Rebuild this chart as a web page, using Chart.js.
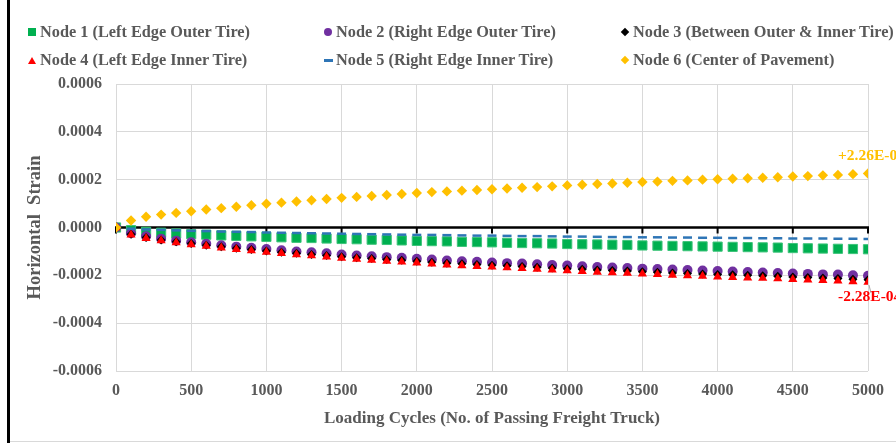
<!DOCTYPE html>
<html><head><meta charset="utf-8">
<script src="https://cdn.jsdelivr.net/npm/chart.js@4.4.1/dist/chart.umd.min.js"></script>
<style>
html,body{margin:0;padding:0;background:#fff;}
#wrap{position:relative;width:896px;height:443px;overflow:hidden;background:#fff;}
#c{position:absolute;left:0;top:0;}
.frameL{position:absolute;left:7px;top:0;width:3px;height:443px;background:#000;}
.frameB{position:absolute;left:10px;top:441px;width:886px;height:1px;background:#d9d9d9;}
.item{position:absolute;white-space:nowrap;font:bold 16.3px "Liberation Serif","Times New Roman",serif;color:#595959;line-height:20px;height:20px;transform:translateY(-50%);}
.mk{position:absolute;}
</style></head>
<body>
<div id="wrap">
<canvas id="c" width="896" height="443"></canvas>
<div class="frameL"></div><div class="frameB"></div>
</div>
<script>
// Loading cycles (x)
const cycles = [0,100,200,300,400,500,600,700,800,900,1000,1100,1200,1300,1400,1500,1600,1700,1800,1900,2000,2100,2200,2300,2400,2500,2600,2700,2800,2900,3000,3100,3200,3300,3400,3500,3600,3700,3800,3900,4000,4100,4200,4300,4400,4500,4600,4700,4800,4900,5000];
// Horizontal strain values, in micro-strain (x 1e-6)
const node1 = [0,-11,-18,-22,-25,-28,-30,-33,-35,-37,-39,-41,-43,-44,-46,-48,-49,-51,-52,-54,-56,-57,-58,-60,-61,-62,-64,-65,-66,-67,-69,-70,-71,-72,-73,-75,-76,-77,-78,-79,-80,-81,-82,-83,-84,-86,-87,-88,-89,-90,-91];
const node2 = [0,-24,-37,-47,-55,-62,-68,-74,-80,-85,-90,-95,-100,-104,-108,-113,-117,-120,-124,-127,-131,-134,-138,-141,-143,-146,-149,-151,-154,-157,-159,-162,-165,-167,-169,-172,-174,-176,-178,-180,-182,-184,-186,-188,-190,-192,-194,-196,-197,-200,-202];
const node3 = [0,-28,-42,-52,-60,-67,-74,-81,-87,-92,-98,-103,-108,-113,-117,-122,-126,-130,-134,-137,-141,-145,-149,-152,-155,-158,-160,-163,-166,-169,-172,-175,-178,-180,-182,-185,-187,-190,-192,-194,-196,-198,-200,-202,-204,-207,-209,-211,-213,-216,-218];
const node4 = [0,-31,-45,-55,-63,-71,-78,-85,-91,-97,-103,-108,-113,-118,-123,-128,-132,-136,-140,-144,-148,-152,-156,-159,-162,-165,-168,-171,-174,-177,-180,-183,-186,-189,-191,-194,-196,-199,-201,-203,-206,-208,-210,-212,-214,-217,-219,-221,-223,-226,-228];
const node5 = [0,-5,-8,-10,-12,-14,-15,-17,-18,-19,-21,-22,-23,-24,-25,-26,-27,-28,-29,-30,-31,-31,-32,-33,-34,-34,-35,-36,-36,-37,-38,-38,-39,-40,-40,-41,-41,-42,-42,-43,-43,-44,-44,-45,-45,-46,-46,-46,-47,-47,-48];
const node6 = [0,29,45,54,61,68,75,81,87,93,99,104,109,114,119,124,128,132,136,140,144,148,151,154,157,160,163,166,169,172,176,179,182,184,187,190,192,195,197,200,202,204,206,208,210,213,215,218,220,223,226];
const MICRO = 1e-6;
const seriesNames = ['Node 1 (Left Edge Outer Tire)','Node 2 (Right Edge Outer Tire)','Node 3 (Between Outer & Inner Tire)','Node 4 (Left Edge Inner Tire)','Node 5 (Right Edge Inner Tire)','Node 6 (Center of Pavement)'];
const yTicks = [-0.0006,-0.0004,-0.0002,0,0.0002,0.0004,0.0006];
const xTicks = [0,500,1000,1500,2000,2500,3000,3500,4000,4500,5000];
const xTitle = 'Loading Cycles (No. of Passing Freight Truck)';
const yTitle = 'Horizontal  Strain';

const FONT = '"Liberation Serif","Times New Roman",serif';
const GREY = '#595959';
const styles = [
  {color:'#00B050', style:'rect', r:6.5, bw:1, border:'#3CC47A', order:6},
  {color:'#7030A0', style:'circle', r:5, bw:0, border:'#7030A0', order:5},
  {color:'#000000', style:'rectRot', r:4.5, bw:0, border:'#000', order:4},
  {color:'#FF0000', style:'triangle', r:5.3, bw:0, border:'#FF0000', order:3},
  {color:'#2E75B6', style:'line', r:4.5, bw:2.5, border:'#2E75B6', order:2},
  {color:'#FFC000', style:'rectRot', r:5.2, bw:0, border:'#FFC000', order:1}
];
const allSeries = [node1,node2,node3,node4,node5,node6];
const datasets = allSeries.map((s,i)=>({
  label: seriesNames[i],
  data: s.map((v,j)=>({x:cycles[j], y:v*MICRO})),
  showLine:false,
  pointStyle: styles[i].style,
  pointRadius: styles[i].r,
  pointBackgroundColor: styles[i].color,
  pointBorderColor: styles[i].border,
  pointBorderWidth: styles[i].bw,
  order: styles[i].order
}));

function fmtE(v){
  const e = Math.floor(Math.log10(Math.abs(v)));
  const m = Math.abs(v)/Math.pow(10,e);
  return (v>=0?'+':'-') + m.toFixed(2) + 'E' + (e<0?'-':'+') + String(Math.abs(e)).padStart(2,'0');
}

const zeroAxis = {
  id:'zeroAxis',
  beforeDatasetsDraw(chart){
    const {ctx, scales:{x,y}} = chart;
    const py = y.getPixelForValue(0);
    ctx.save();
    ctx.strokeStyle = '#000';
    ctx.lineWidth = 2.5;
    ctx.beginPath(); ctx.moveTo(x.left-1, py); ctx.lineTo(x.right+1, py); ctx.stroke();
    ctx.lineWidth = 2;
    xTicks.forEach(t=>{
      const px = x.getPixelForValue(t);
      ctx.beginPath(); ctx.moveTo(px, py); ctx.lineTo(px, py+6); ctx.stroke();
    });
    ctx.restore();
  }
};

const endLabels = {
  id:'endLabels',
  afterDatasetsDraw(chart){
    const {ctx, scales:{x,y}} = chart;
    const last = cycles.length-1;
    const px = x.getPixelForValue(cycles[last]);
    const vTop = node6[last]*MICRO, vBot = node4[last]*MICRO;
    const pyT = y.getPixelForValue(vTop), pyB = y.getPixelForValue(vBot);
    ctx.save();
    ctx.font = 'bold 15.5px ' + FONT;
    ctx.textBaseline = 'middle';
    ctx.textAlign = 'left';
    ctx.fillStyle = '#FFC000';
    ctx.fillText(fmtE(vTop), px-30, pyT-17);
    ctx.strokeStyle = '#A6A6A6'; ctx.lineWidth = 1;
    ctx.beginPath(); ctx.moveTo(px+1, pyB+3); ctx.lineTo(px+3, pyB+11); ctx.stroke();
    ctx.fillStyle = '#FF0000';
    ctx.fillText(fmtE(vBot), px-30, pyB+15);
    ctx.restore();
  }
};

new Chart(document.getElementById('c'), {
  type:'scatter',
  data:{datasets},
  options:{
    responsive:false, animation:false,
    layout:{padding:{left:0, top:84, right:28, bottom:0}},
    plugins:{legend:{display:false}, tooltip:{enabled:false}},
    scales:{
      x:{
        type:'linear', min:0, max:5000,
        afterBuildTicks(s){ s.ticks = xTicks.map(v=>({value:v})); },
        afterFit(s){ s.height = 72; },
        grid:{color:'#D9D9D9', lineWidth:1, drawTicks:false},
        border:{display:false},
        ticks:{padding:10, color:GREY, font:{family:FONT, size:16, weight:'bold'}, maxRotation:0, autoSkip:false, callback:v=>String(v)},
        title:{display:true, text:xTitle, color:GREY, font:{family:FONT, size:17, weight:'bold'}, padding:{top:0,bottom:14}}
      },
      y:{
        type:'linear', min:-0.0006, max:0.0006,
        afterBuildTicks(s){ s.ticks = yTicks.map(v=>({value:v})); },
        afterFit(s){ s.width = 116; },
        grid:{color:'#D9D9D9', lineWidth:1, drawTicks:false},
        border:{display:false},
        ticks:{padding:14, color:GREY, font:{family:FONT, size:16, weight:'bold'}, callback:v=>(Math.abs(v)<1e-12?0:v).toFixed(4)},
        title:{display:true, text:yTitle, color:GREY, font:{family:FONT, size:18.5, weight:'bold'}, padding:{top:24,bottom:0}}
      }
    }
  },
  plugins:[zeroAxis, endLabels]
});

// HTML legend (3 columns x 2 rows)
const wrap = document.getElementById('wrap');
const colText = [40, 336, 633];
const rowY = [32, 60];
const markerCss = [
  'width:8px;height:8px;background:#00B050;',
  'width:8px;height:8px;border-radius:50%;background:#7030A0;',
  'width:6px;height:6px;background:#000;transform:rotate(45deg);',
  'width:0;height:0;border-left:4px solid transparent;border-right:4px solid transparent;border-bottom:7px solid #FF0000;',
  'width:9px;height:3px;background:#2E75B6;',
  'width:6px;height:6px;background:#FFC000;transform:rotate(45deg);'
];
const markerSize = [[8,8],[8,8],[6,6],[8,7],[9,3],[6,6]];
seriesNames.forEach((name,i)=>{
  const col = i%3, row = Math.floor(i/3);
  const cx = colText[col]-8, cy = rowY[row];
  const mk = document.createElement('div');
  mk.className='mk';
  mk.style.cssText = markerCss[i] + 'left:'+(cx-markerSize[i][0]/2)+'px;top:'+(cy-markerSize[i][1]/2)+'px;position:absolute;';
  wrap.appendChild(mk);
  const t = document.createElement('div');
  t.className='item';
  t.textContent = name;
  t.style.left = colText[col]+'px';
  t.style.top = cy+'px';
  wrap.appendChild(t);
});
</script>
</body></html>
